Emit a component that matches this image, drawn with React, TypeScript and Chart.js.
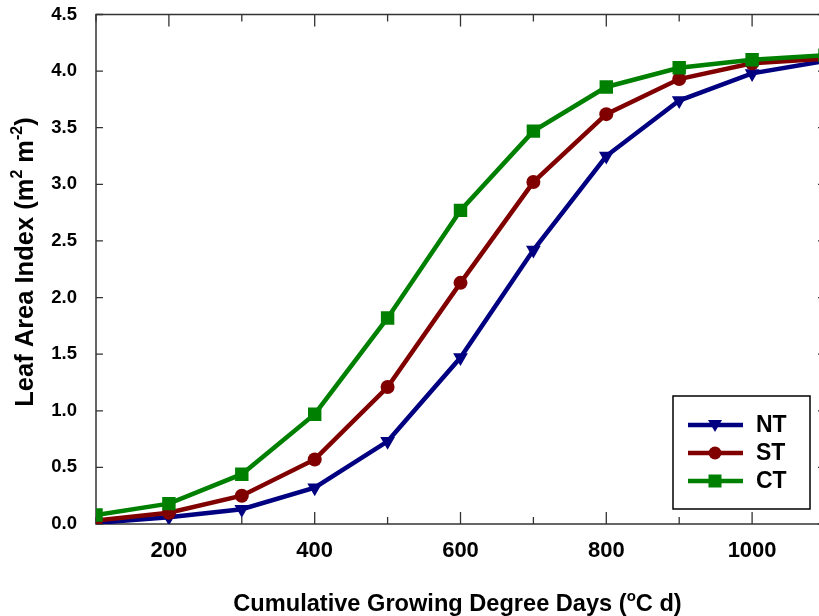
import React, { useEffect, useRef } from "react";
import { Chart, registerables } from "chart.js";

Chart.register(...registerables);

const gdd = [100, 200, 300, 400, 500, 600, 700, 800, 900, 1000, 1100];
const ntValues = [0.01, 0.06, 0.13, 0.32, 0.73, 1.47, 2.42, 3.25, 3.74, 3.98, 4.09];
const stValues = [0.03, 0.1, 0.25, 0.57, 1.21, 2.13, 3.02, 3.62, 3.93, 4.07, 4.11];
const ctValues = [0.08, 0.18, 0.44, 0.97, 1.82, 2.77, 3.47, 3.86, 4.03, 4.1, 4.14];
const seriesNames = ["NT", "ST", "CT"];
const xLabelValues = [200, 400, 600, 800, 1000];
const yMin = 0;
const yMax = 4.5;
const yStep = 0.5;
const xMin = 100;
const xMax = 1100;
const xStep = 100;

const FONT = "'Liberation Sans', Arial, Helvetica, sans-serif";
const colors = ["#000080", "#800000", "#008000"];
const pointStyles = ["triangleDown", "circle", "rect"];

function drawMarker(ctx: CanvasRenderingContext2D, style: string, x: number, y: number, color: string) {
  ctx.save();
  ctx.fillStyle = color;
  ctx.beginPath();
  if (style === "circle") {
    ctx.arc(x, y, 6.5, 0, Math.PI * 2);
  } else if (style === "rect") {
    ctx.rect(x - 6.5, y - 6.5, 13, 13);
  } else {
    ctx.moveTo(x - 7, y - 5);
    ctx.lineTo(x + 7, y - 5);
    ctx.lineTo(x, y + 7);
    ctx.closePath();
  }
  ctx.fill();
  ctx.restore();
}

function drawRich(ctx: CanvasRenderingContext2D, parts: { t: string; sup?: boolean }[], size: number, x: number, y: number) {
  const supSize = Math.round(size * 0.62);
  let total = 0;
  for (const p of parts) {
    ctx.font = `bold ${p.sup ? supSize : size}px ${FONT}`;
    total += ctx.measureText(p.t).width;
  }
  let cx = x - total / 2;
  ctx.textAlign = "left";
  ctx.textBaseline = "alphabetic";
  for (const p of parts) {
    ctx.font = `bold ${p.sup ? supSize : size}px ${FONT}`;
    ctx.fillText(p.t, cx, p.sup ? y - size * 0.42 : y);
    cx += ctx.measureText(p.t).width;
  }
}

const framePlugin = {
  id: "frame",
  beforeDatasetsDraw(chart: any) {
    const { ctx, chartArea, scales } = chart;
    const { left, right, top, bottom } = chartArea;
    ctx.save();
    ctx.strokeStyle = "#333333";
    ctx.lineWidth = 1.5;
    ctx.strokeRect(left, top, right - left, bottom - top);
    ctx.lineWidth = 1.3;
    ctx.beginPath();
    for (const t of scales.x.ticks) {
      const px = scales.x.getPixelForValue(t.value);
      const len = t.value % 200 === 0 ? 12 : 7;
      ctx.moveTo(px, bottom);
      ctx.lineTo(px, bottom - len);
      ctx.moveTo(px, top);
      ctx.lineTo(px, top + len);
    }
    for (const t of scales.y.ticks) {
      const py = scales.y.getPixelForValue(t.value);
      ctx.moveTo(left, py);
      ctx.lineTo(left + 7, py);
      ctx.moveTo(right, py);
      ctx.lineTo(right - 7, py);
    }
    ctx.stroke();
    ctx.restore();
  },
  afterDraw(chart: any) {
    const { ctx, chartArea } = chart;
    ctx.save();
    ctx.fillStyle = "#000";
    drawRich(
      ctx,
      [{ t: "Cumulative Growing Degree Days (" }, { t: "o", sup: true }, { t: "C d)" }],
      23.6,
      (chartArea.left + chartArea.right) / 2 - 3,
      611
    );
    ctx.save();
    ctx.translate(33, 262);
    ctx.rotate(-Math.PI / 2);
    drawRich(
      ctx,
      [{ t: "Leaf Area Index (m" }, { t: "2", sup: true }, { t: " m" }, { t: "-2", sup: true }, { t: ")" }],
      25.5,
      0,
      0
    );
    ctx.restore();

    const bx = 673, by = 396, bw = 137, bh = 113;
    ctx.fillStyle = "#fff";
    ctx.fillRect(bx, by, bw, bh);
    ctx.strokeStyle = "#000";
    ctx.lineWidth = 1.5;
    ctx.strokeRect(bx, by, bw, bh);
    const rows = [425, 453, 481];
    seriesNames.forEach((name, i) => {
      const ry = rows[i];
      ctx.strokeStyle = colors[i];
      ctx.lineWidth = 4.5;
      ctx.beginPath();
      ctx.moveTo(688, ry);
      ctx.lineTo(743, ry);
      ctx.stroke();
      drawMarker(ctx, pointStyles[i], 715, ry, colors[i]);
      ctx.fillStyle = "#000";
      ctx.font = `bold 23px ${FONT}`;
      ctx.textAlign = "left";
      ctx.textBaseline = "middle";
      ctx.fillText(name, 756, ry + 1);
    });
    ctx.restore();
  },
};

export default function App() {
  const ref = useRef<HTMLCanvasElement | null>(null);
  useEffect(() => {
    if (!ref.current) return;
    const mk = (vals: number[]) => gdd.map((x, i) => ({ x, y: vals[i] }));
    const chart = new Chart(ref.current, {
      type: "line",
      data: {
        datasets: [
          {
            label: seriesNames[0],
            data: mk(ntValues),
            borderColor: colors[0],
            backgroundColor: colors[0],
            borderWidth: 4.5,
            pointStyle: "triangle",
            rotation: 180,
            pointRadius: 8.5,
            pointBorderWidth: 0,
            order: 3,
          },
          {
            label: seriesNames[1],
            data: mk(stValues),
            borderColor: colors[1],
            backgroundColor: colors[1],
            borderWidth: 4.5,
            pointStyle: "circle",
            pointRadius: 7,
            pointBorderWidth: 0,
            order: 2,
          },
          {
            label: seriesNames[2],
            data: mk(ctValues),
            borderColor: colors[2],
            backgroundColor: colors[2],
            borderWidth: 4.5,
            pointStyle: "rect",
            pointRadius: 9.5,
            pointBorderWidth: 0,
            order: 1,
          },
        ],
      },
      options: {
        animation: false,
        responsive: false,
        devicePixelRatio: 1,
        layout: { padding: { top: 14.5, right: 15, left: 0, bottom: 0 } },
        plugins: { legend: { display: false }, tooltip: { enabled: false } },
        elements: { line: { tension: 0 } },
        scales: {
          x: {
            type: "linear",
            min: xMin,
            max: xMax,
            grid: { display: false },
            border: { display: false },
            ticks: {
              stepSize: xStep,
              autoSkip: false,
              maxRotation: 0,
              padding: 6,
              color: "#000",
              font: { family: FONT, size: 22, weight: "bold" },
              callback: (v: any) => (xLabelValues.includes(Number(v)) ? String(v) : ""),
            },
            afterFit: (s: any) => {
              s.height = 92;
              s.paddingLeft = 0;
              s.paddingRight = 0;
            },
          },
          y: {
            type: "linear",
            min: yMin,
            max: yMax,
            grid: { display: false },
            border: { display: false },
            ticks: {
              stepSize: yStep,
              padding: 11,
              color: "#000",
              font: { family: FONT, size: 18.5, weight: "bold" },
              callback: (v: any) => Number(v).toFixed(1),
            },
            afterFit: (s: any) => {
              s.width = 96;
              s.paddingTop = 0;
              s.paddingBottom = 0;
            },
          },
        },
      },
      plugins: [framePlugin],
    });
    return () => chart.destroy();
  }, []);
  return (
    <div style={{ position: "fixed", left: 0, top: 0, width: 819, height: 616, overflow: "hidden", background: "#fff" }}>
      <canvas ref={ref} width={840} height={616} style={{ display: "block" }} />
    </div>
  );
}
